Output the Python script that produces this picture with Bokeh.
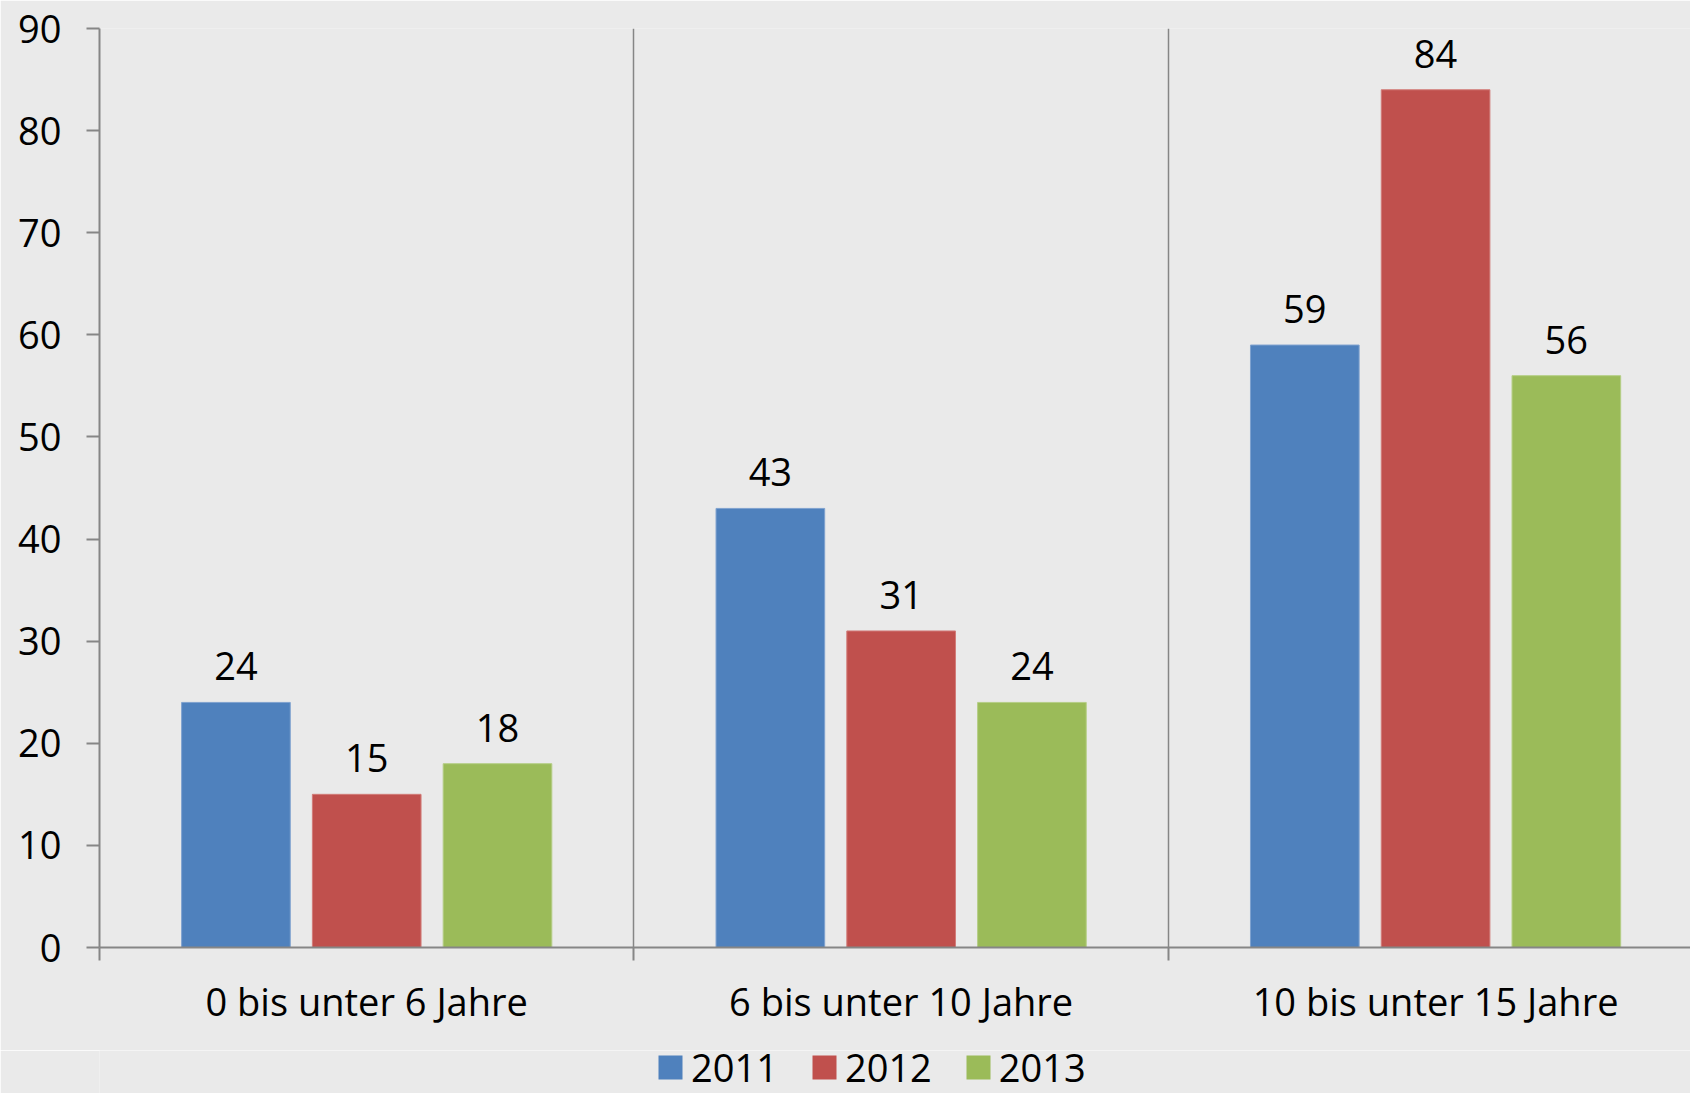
from bokeh.plotting import figure
from bokeh.layouts import column
from bokeh.models import ColumnDataSource, Range1d, FixedTicker, LabelSet, Legend, LegendItem
from bokeh.embed import file_html
from bokeh.resources import INLINE
from bokeh.core.properties import value

# ---- data ----
categories = ["0 bis unter 6 Jahre", "6 bis unter 10 Jahre", "10 bis unter 15 Jahre"]
years = ["2011", "2012", "2013"]
v2011 = [24, 43, 59]
v2012 = [15, 31, 84]
v2013 = [18, 24, 56]
y_ticks = [0, 10, 20, 30, 40, 50, 60, 70, 80, 90]

# ---- style ----
BG = "#EAEAEA"
AXIS = "#868686"
FONT = "Open Sans"
FS = "38px"
colors = ["#4F81BD", "#C0504D", "#9BBB59"]
edges = ["#7FA2CF", "#D27C79", "#B5CE86"]
offsets = [-0.2447, 0.0, 0.2447]
BAR_W = 0.2033

p = figure(width=1690, height=1050, output_backend="svg", toolbar_location=None,
           x_range=Range1d(0, 2.977), y_range=Range1d(0, 90),
           min_border_left=99, min_border_top=28, min_border_right=0,
           min_border_bottom=103,
           background_fill_color=BG, border_fill_color=BG, outline_line_color=None)

series = [v2011, v2012, v2013]
sources = []
for s, vals in enumerate(series):
    xs = [i + 0.5 + offsets[s] for i in range(len(categories))]
    src = ColumnDataSource(dict(x=xs, top=vals, label=[str(v) for v in vals]))
    sources.append(src)
    p.vbar(x="x", top="top", width=BAR_W, source=src,
           fill_color=colors[s], line_color=edges[s], line_width=1)
    p.add_layout(LabelSet(x="x", y="top", text="label", source=src,
                          text_align="center", text_baseline="alphabetic",
                          y_offset=22, text_font=value(FONT),
                          text_font_size=FS, text_color="black"))

# x axis: labels at category centres, ticks at boundaries
xa = p.xaxis[0]
xa.ticker = FixedTicker(ticks=[i + 0.5 for i in range(len(categories))],
                        minor_ticks=[0, 1, 2, 3])
xa.major_label_overrides = {i + 0.5: c for i, c in enumerate(categories)}
xa.major_tick_out = 0
xa.major_tick_in = 0
xa.minor_tick_out = 13
xa.minor_tick_in = 0
xa.minor_tick_line_color = AXIS
xa.minor_tick_line_width = 2
xa.axis_line_color = AXIS
xa.axis_line_width = 2
xa.major_label_text_font = FONT
xa.major_label_text_font_size = FS
xa.major_label_text_color = "black"
xa.major_label_standoff = 14

ya = p.yaxis[0]
ya.ticker = FixedTicker(ticks=y_ticks)
ya.major_tick_out = 13
ya.major_tick_in = 0
ya.major_tick_line_color = AXIS
ya.major_tick_line_width = 2
ya.minor_tick_line_color = None
ya.axis_line_color = AXIS
ya.axis_line_width = 2
ya.major_label_text_font = FONT
ya.major_label_text_font_size = FS
ya.major_label_text_color = "black"
ya.major_label_standoff = 25

p.xgrid.ticker = FixedTicker(ticks=[1, 2])
p.xgrid.grid_line_color = AXIS
p.xgrid.grid_line_width = 1.5
p.ygrid.grid_line_color = None

# ---- legend strip below the chart (same series sources, kept out of view) ----
leg = figure(width=1690, height=43, output_backend="svg", toolbar_location=None,
             x_range=Range1d(-6, -3), y_range=Range1d(-2, -1),
             x_axis_location=None, y_axis_location=None,
             min_border_left=0, min_border_right=0, min_border_top=0,
             min_border_bottom=0,
             background_fill_color=BG, border_fill_color=BG, outline_line_color=None)
leg.xgrid.grid_line_color = None
leg.ygrid.grid_line_color = None
proxies = [leg.vbar(x="x", top="top", width=BAR_W, source=sources[i],
                    fill_color=colors[i], line_color=None)
           for i in range(3)]
legend = Legend(items=[LegendItem(label=value(years[i]), renderers=[proxies[i]])
                       for i in range(3)],
                orientation="horizontal", location=(556, 0),
                glyph_width=30, glyph_height=30, label_standoff=6, spacing=31,
                padding=0, margin=0, border_line_color=None,
                background_fill_alpha=0,
                label_text_font=FONT, label_text_font_size=FS,
                label_text_color="black")
leg.add_layout(legend, "center")

open("out.html", "w").write(file_html(column(p, leg, spacing=0), INLINE))
